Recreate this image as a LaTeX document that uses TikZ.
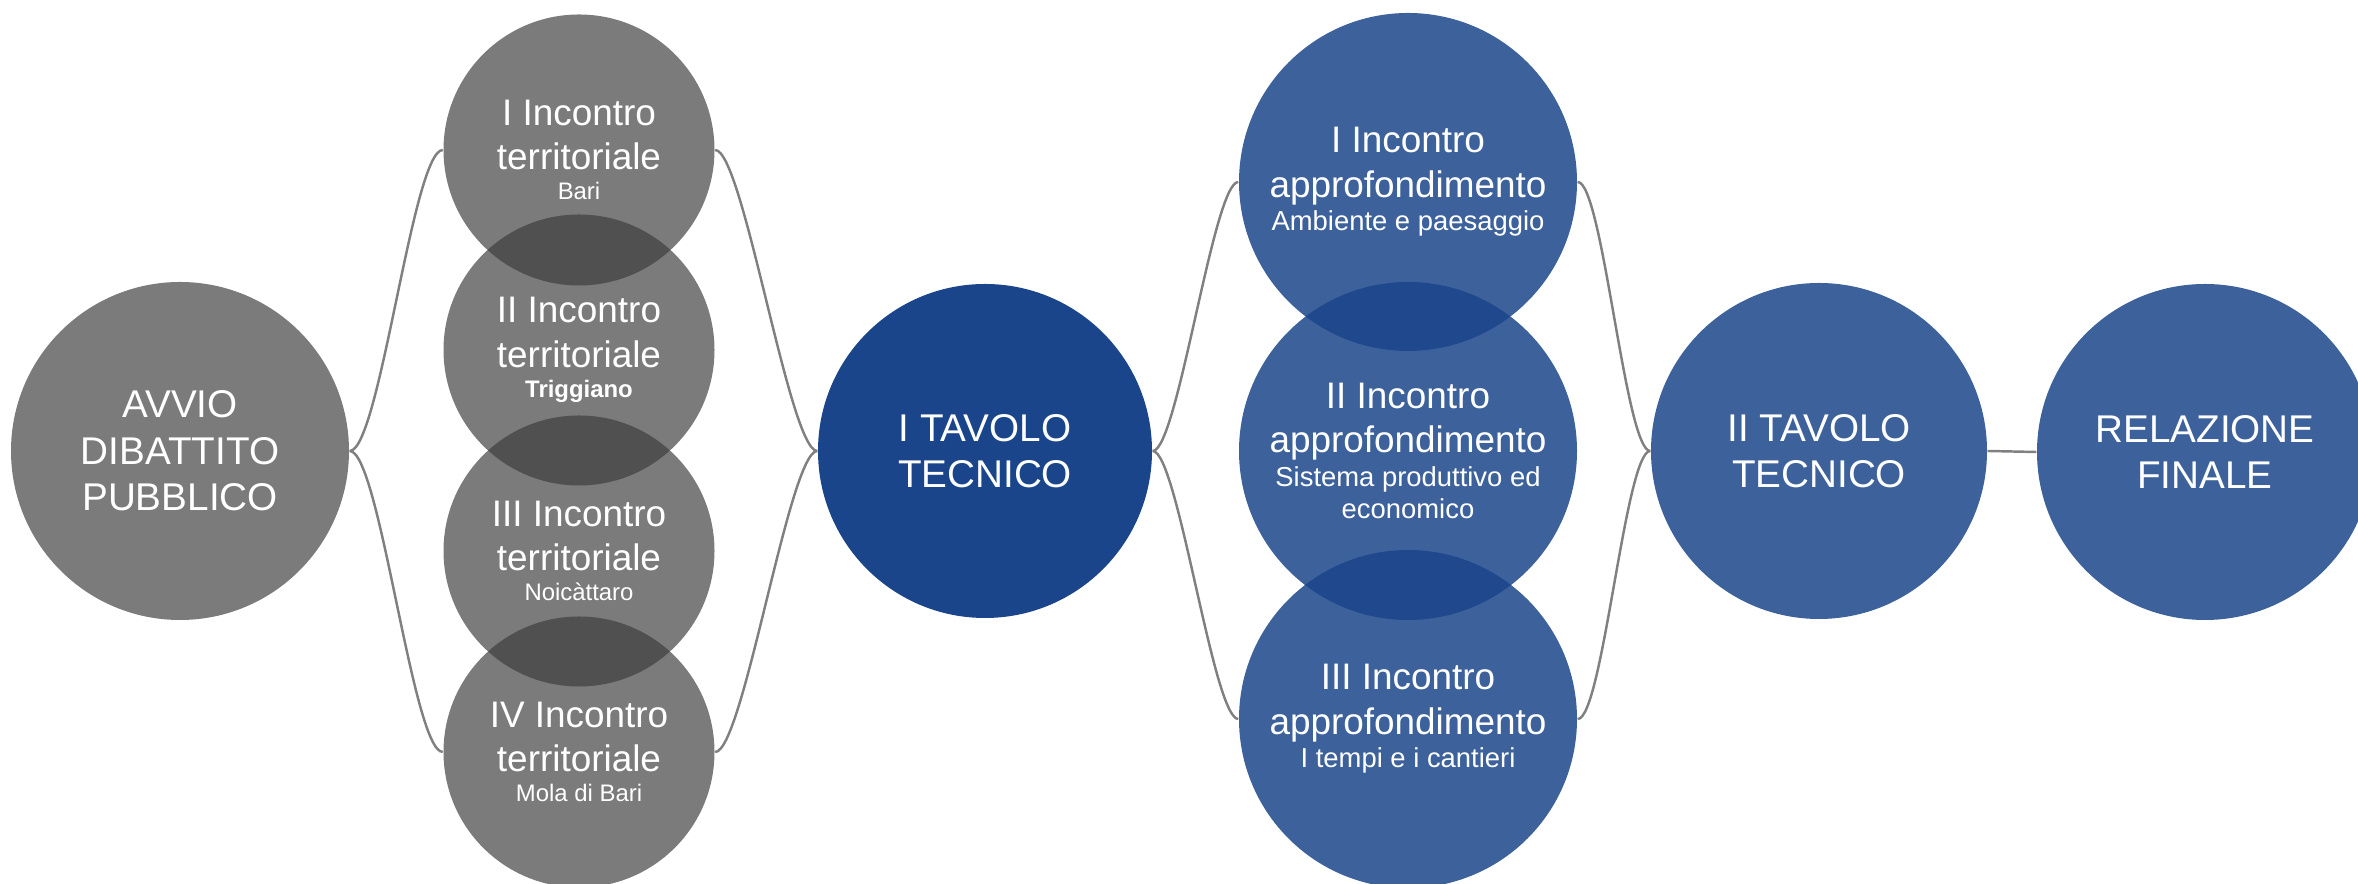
\documentclass[tikz,border=0pt]{standalone}
\usepackage{fontspec}
\setmainfont{Liberation Sans}
\usepackage{tikz}

\definecolor{incgray}{RGB}{60,60,60}
\definecolor{incblue}{RGB}{27,69,138}
\definecolor{linkgray}{RGB}{128,128,128}

\newcommand{\bigfnt}{\fontsize{11}{13.2}\selectfont}
\newcommand{\midfnt}{\fontsize{10.5}{12.6}\selectfont}
\newcommand{\subfnt}{\fontsize{6.8}{8.8}\selectfont}
\newcommand{\bsubfnt}{\fontsize{7.8}{9.2}\selectfont}

\tikzstyle{graynode}=[shape=circle, fill=incgray, fill opacity=0.68, text opacity=1, text=white, inner sep=0pt, align=center]
\tikzstyle{bluenode}=[shape=circle, fill=incblue, fill opacity=0.85, text opacity=1, text=white, inner sep=0pt, align=center]
\tikzstyle{tavnode}=[shape=circle, fill=incblue, text=white, inner sep=0pt, align=center]
\tikzstyle{link}=[line width=0.7pt, color=linkgray]

\begin{document}
\begin{tikzpicture}
\useasboundingbox (0,0) rectangle (23.58,8.84);

\node [graynode, minimum size=3.38cm, font=\bigfnt] (avvio) at (1.80,4.33) {AVVIO\\DIBATTITO\\PUBBLICO};

\node [graynode, minimum size=2.71cm, font=\midfnt] (inc1) at (5.79,7.34) {I Incontro\\territoriale\\[-4pt]\subfnt Bari};
\node [graynode, minimum size=2.71cm, font=\midfnt] (inc2) at (5.79,5.34) {II Incontro\\territoriale\\[-4pt]\subfnt\bfseries Triggiano};
\node [graynode, minimum size=2.71cm, font=\midfnt] (inc3) at (5.79,3.33) {III Incontro\\territoriale\\[-4pt]\subfnt Noicàttaro};
\node [graynode, minimum size=2.71cm, font=\midfnt] (inc4) at (5.79,1.32) {IV Incontro\\territoriale\\[-4pt]\subfnt Mola di Bari};

\node [tavnode, minimum size=3.34cm, font=\bigfnt] (itav) at (9.85,4.33) {I TAVOLO\\TECNICO};

\node [bluenode, minimum size=3.38cm, font=\midfnt] (app1) at (14.08,7.02) {I Incontro\\approfondimento\\[-3pt]\bsubfnt Ambiente e paesaggio};
\node [bluenode, minimum size=3.38cm, font=\midfnt] (app2) at (14.08,4.33) {II Incontro\\approfondimento\\[-3pt]\bsubfnt Sistema produttivo ed\\[-3.5pt]\bsubfnt economico};
\node [bluenode, minimum size=3.38cm, font=\midfnt] (app3) at (14.08,1.65) {III Incontro\\approfondimento\\[-3pt]\bsubfnt I tempi e i cantieri};

\node [bluenode, minimum size=3.36cm, font=\bigfnt] (iitav) at (18.19,4.33) {II TAVOLO\\TECNICO};
\node [bluenode, minimum size=3.36cm, font=\bigfnt] (rel) at (22.05,4.32) {RELAZIONE\\FINALE};

% brackets
\draw [link] (avvio.east) .. controls +(0.3,0) and +(-0.3,0) .. (inc1.west);
\draw [link] (avvio.east) .. controls +(0.3,0) and +(-0.3,0) .. (inc4.west);
\draw [link] (inc1.east) .. controls +(0.28,0) and +(-0.28,0) .. (itav.west);
\draw [link] (inc4.east) .. controls +(0.28,0) and +(-0.28,0) .. (itav.west);
\draw [link] (itav.east) .. controls +(0.25,0) and +(-0.25,0) .. (app1.west);
\draw [link] (itav.east) .. controls +(0.25,0) and +(-0.25,0) .. (app3.west);
\draw [link] (app1.east) .. controls +(0.25,0) and +(-0.25,0) .. (iitav.west);
\draw [link] (app3.east) .. controls +(0.25,0) and +(-0.25,0) .. (iitav.west);
\draw [link] (iitav.east) -- (rel.west);
\end{tikzpicture}
\end{document}
